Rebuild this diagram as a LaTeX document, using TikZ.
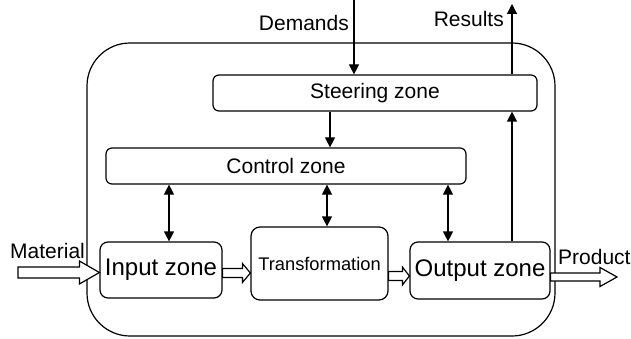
\documentclass[tikz,border=0pt]{standalone}
\usepackage{fontspec}
\setmainfont{Liberation Sans}
\usetikzlibrary{arrows.meta,calc}
\tikzset{
  zone/.style={draw, line width=1.2pt, rounded corners=6pt, inner sep=0pt, align=center},
  lbl/.style={inner sep=0pt},
  arr/.style={line width=1.2pt, -{Triangle[length=10pt,width=10pt]}},
  darr/.style={line width=1.2pt, {Triangle[length=10pt,width=10pt]}-{Triangle[length=10pt,width=10pt]}},
  hollow/.style={draw, line width=1.2pt, fill=white, line join=miter},
}
\newcommand{\hollowarrow}[5]{%
  \draw[hollow] ($(#1)+(0,-#3)$) -- ($(#2)+(-#5,-#3)$) -- ($(#2)+(-#5,-#4)$) -- (#2)
    -- ($(#2)+(-#5,#4)$) -- ($(#2)+(-#5,#3)$) -- ($(#1)+(0,#3)$) -- cycle;}
\newcommand{\fs}[1]{\fontsize{#1}{#1}\selectfont}
\begin{document}
\begin{tikzpicture}[x=1pt,y=-1pt]
\useasboundingbox (0,0) rectangle (631,339);
% outer enclosure
\node[draw, line width=1.2pt, rounded corners=43pt, minimum width=468pt, minimum height=293pt, inner sep=0pt] (outer) at (321,189.5) {};
% zones
\node[zone, minimum width=324pt, minimum height=36pt, font=\fs{21}] (steer) at (375,93) {Steering zone};
\node[zone, minimum width=360pt, minimum height=36pt, font=\fs{21}] (control) at (286,166) {Control zone};
\node[zone, rounded corners=8pt, minimum width=122pt, minimum height=56pt, font=\fs{24}] (input) at (161,270) {Input zone};
\node[zone, rounded corners=9pt, minimum width=137pt, minimum height=73pt, font=\fs{18.3}] (trans) at (319.5,263.5) {Transformation};
\node[zone, rounded corners=8pt, minimum width=140pt, minimum height=57pt, font=\fs{24}] (output) at (480,270.5) {Output zone};
% labels
\node[lbl, anchor=base east, font=\fs{21}] (demlbl) at (349,31) {Demands};
\node[lbl, anchor=base east, font=\fs{21}] (reslbl) at (504,27) {Results};
\node[lbl, anchor=base west, font=\fs{21}] (matlbl) at (10,258) {Material};
\node[lbl, anchor=base west, font=\fs{21}] (prodlbl) at (558,264) {Product};
% helper coordinates
\coordinate (dtop) at (354,0);
\coordinate (rtop) at (512,4);
\coordinate (sc) at (330,0);
\coordinate (c1) at (169,0);
\coordinate (c2) at (327,0);
\coordinate (c3) at (448,0);
% thin arrows
\draw[arr] (dtop) -- (dtop |- steer.north);
\draw[arr] (rtop |- output.north) -- (rtop |- steer.south);
\draw[arr] (rtop |- steer.north) -- (rtop);
\draw[arr] (sc |- steer.south) -- (sc |- control.north);
\draw[darr] (c1 |- control.south) -- (c1 |- input.north);
\draw[darr] (c2 |- control.south) -- (c2 |- trans.north);
\draw[darr] (c3 |- control.south) -- (c3 |- output.north);
% hollow arrows
\coordinate (m0) at (18,272.5);
\coordinate (y1) at (0,273);
\coordinate (y2) at (0,276);
\coordinate (pend) at (617,277);
\hollowarrow{m0}{input.west |- m0}{5.5}{11.5}{20}
\hollowarrow{input.east |- y1}{trans.west |- y1}{4.5}{9.5}{8}
\hollowarrow{trans.east |- y2}{output.west |- y2}{4.5}{9}{7}
\hollowarrow{output.east |- pend}{pend}{4}{9.5}{17}
\end{tikzpicture}
\end{document}
